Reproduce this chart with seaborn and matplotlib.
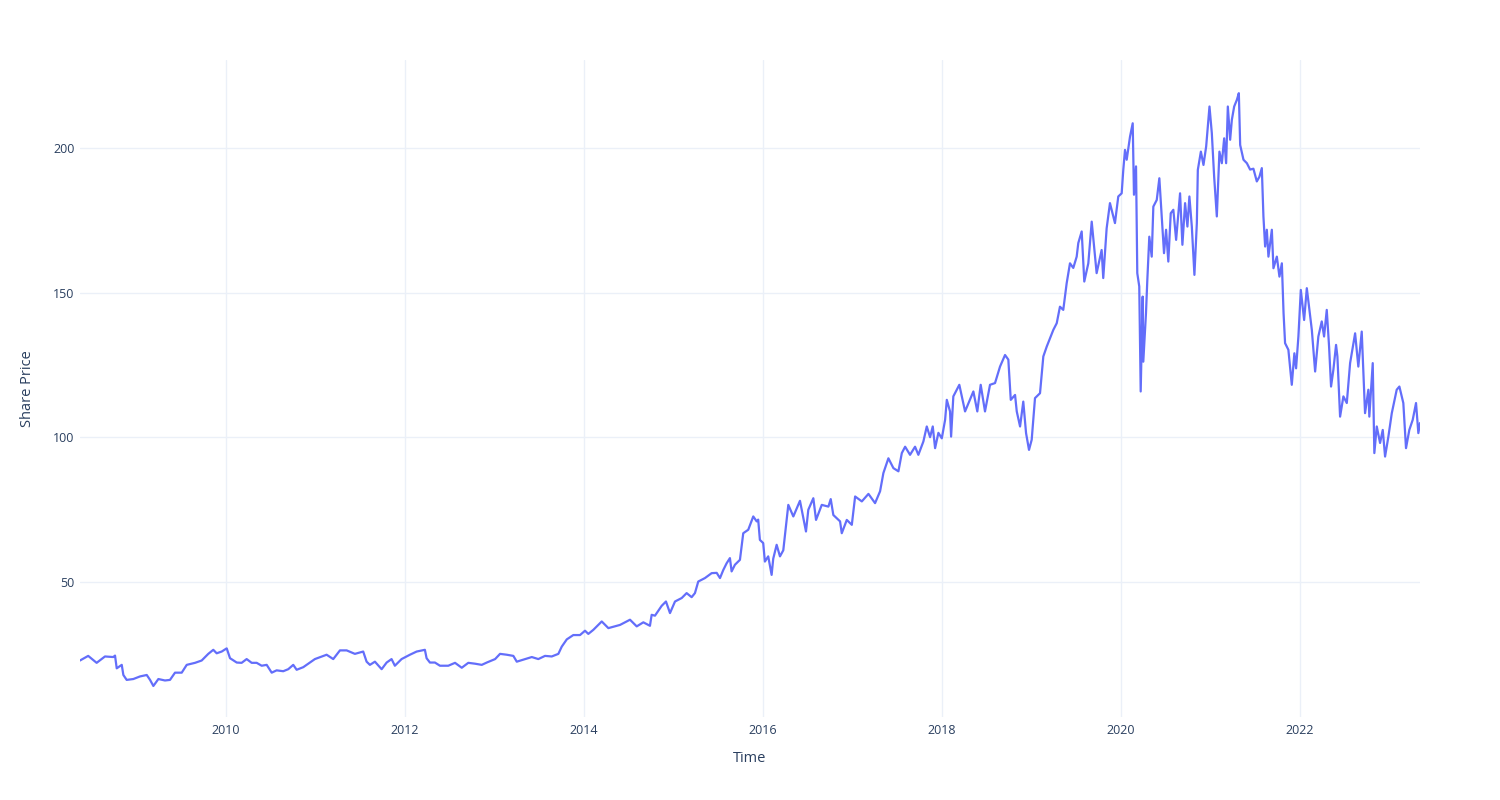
import numpy as np
import pandas as pd
import matplotlib
matplotlib.use("Agg")
import matplotlib.pyplot as plt
import matplotlib.dates as mdates
import seaborn as sns

# Time as decimal years
time_years = [
    2008.369, 2008.461, 2008.555, 2008.648, 2008.741, 2008.760, 2008.779, 2008.835, 2008.853, 2008.890,
    2008.964, 2009.039, 2009.114, 2009.151, 2009.188, 2009.244, 2009.318, 2009.374, 2009.430, 2009.505,
    2009.561, 2009.654, 2009.728, 2009.802, 2009.858, 2009.896, 2009.952, 2010.008, 2010.045, 2010.120,
    2010.175, 2010.231, 2010.287, 2010.343, 2010.399, 2010.455, 2010.511, 2010.566, 2010.640, 2010.696,
    2010.752, 2010.790, 2010.864, 2010.994, 2011.125, 2011.199, 2011.274, 2011.349, 2011.441, 2011.534,
    2011.572, 2011.609, 2011.665, 2011.740, 2011.796, 2011.851, 2011.888, 2011.963, 2012.056, 2012.131,
    2012.223, 2012.242, 2012.279, 2012.335, 2012.391, 2012.484, 2012.559, 2012.634, 2012.707, 2012.782,
    2012.857, 2012.913, 2013.006, 2013.061, 2013.136, 2013.210, 2013.248, 2013.341, 2013.416, 2013.489,
    2013.564, 2013.639, 2013.713, 2013.751, 2013.807, 2013.880, 2013.955, 2014.011, 2014.048, 2014.104,
    2014.198, 2014.272, 2014.402, 2014.514, 2014.589, 2014.663, 2014.737, 2014.756, 2014.793, 2014.868,
    2014.916, 2014.961, 2015.017, 2015.092, 2015.147, 2015.203, 2015.240, 2015.277, 2015.352, 2015.427,
    2015.483, 2015.520, 2015.557, 2015.594, 2015.631, 2015.650, 2015.687, 2015.743, 2015.762, 2015.780,
    2015.836, 2015.892, 2015.930, 2015.947, 2015.966, 2016.003, 2016.022, 2016.059, 2016.097, 2016.115,
    2016.153, 2016.190, 2016.227, 2016.265, 2016.283, 2016.339, 2016.413, 2016.480, 2016.506, 2016.562,
    2016.592, 2016.656, 2016.730, 2016.756, 2016.785, 2016.860, 2016.879, 2016.935, 2016.991, 2017.028,
    2017.103, 2017.177, 2017.251, 2017.307, 2017.344, 2017.400, 2017.456, 2017.512, 2017.550, 2017.587,
    2017.642, 2017.698, 2017.735, 2017.791, 2017.829, 2017.866, 2017.896, 2017.922, 2017.959, 2017.997,
    2018.034, 2018.053, 2018.089, 2018.101, 2018.126, 2018.193, 2018.257, 2018.350, 2018.394, 2018.432,
    2018.480, 2018.536, 2018.592, 2018.648, 2018.704, 2018.741, 2018.768, 2018.816, 2018.835, 2018.872,
    2018.908, 2018.939, 2018.972, 2019.002, 2019.039, 2019.095, 2019.132, 2019.170, 2019.244, 2019.282,
    2019.318, 2019.355, 2019.393, 2019.430, 2019.467, 2019.505, 2019.523, 2019.561, 2019.590, 2019.635,
    2019.673, 2019.728, 2019.784, 2019.802, 2019.840, 2019.877, 2019.933, 2019.970, 2020.008, 2020.026,
    2020.045, 2020.064, 2020.101, 2020.131, 2020.145, 2020.168, 2020.182, 2020.204, 2020.220, 2020.242,
    2020.249, 2020.279, 2020.294, 2020.316, 2020.343, 2020.361, 2020.399, 2020.428, 2020.455, 2020.480,
    2020.503, 2020.528, 2020.555, 2020.584, 2020.615, 2020.640, 2020.659, 2020.685, 2020.715, 2020.741,
    2020.763, 2020.790, 2020.819, 2020.846, 2020.857, 2020.891, 2020.920, 2020.950, 2020.987, 2021.013,
    2021.039, 2021.069, 2021.098, 2021.125, 2021.151, 2021.173, 2021.192, 2021.218, 2021.237, 2021.263,
    2021.293, 2021.315, 2021.330, 2021.367, 2021.405, 2021.441, 2021.478, 2021.516, 2021.545, 2021.572,
    2021.590, 2021.609, 2021.628, 2021.646, 2021.684, 2021.702, 2021.740, 2021.769, 2021.796, 2021.815,
    2021.832, 2021.869, 2021.907, 2021.936, 2021.955, 2021.981, 2022.008, 2022.045, 2022.075, 2022.104,
    2022.131, 2022.168, 2022.204, 2022.242, 2022.268, 2022.298, 2022.324, 2022.346, 2022.372, 2022.402,
    2022.417, 2022.447, 2022.484, 2022.522, 2022.559, 2022.615, 2022.651, 2022.689, 2022.726, 2022.763,
    2022.774, 2022.812, 2022.830, 2022.857, 2022.894, 2022.924, 2022.950, 2022.987, 2023.025, 2023.080,
    2023.110, 2023.154, 2023.184, 2023.221, 2023.259, 2023.296, 2023.322, 2023.341,
]

share_price = [
    22.8, 24.4, 22.0, 24.2, 24.0, 24.5, 20.1, 21.3, 17.8, 16.1,
    16.4, 17.3, 17.8, 16.1, 14.0, 16.4, 15.9, 16.1, 18.6, 18.6,
    21.3, 22.0, 22.8, 25.1, 26.5, 25.3, 25.9, 27.0, 23.6, 22.1,
    22.0, 23.3, 22.0, 22.0, 21.0, 21.3, 18.6, 19.4, 19.1, 19.8,
    21.3, 19.6, 20.5, 23.3, 24.8, 23.3, 26.3, 26.3, 25.1, 25.9,
    22.4, 21.3, 22.4, 19.8, 22.1, 23.3, 21.0, 23.3, 24.8, 25.9,
    26.5, 23.6, 22.1, 22.1, 21.0, 21.0, 22.0, 20.3, 22.0, 21.7,
    21.3, 22.1, 23.3, 25.1, 24.8, 24.4, 22.4, 23.3, 24.0, 23.3,
    24.4, 24.2, 25.1, 27.6, 30.1, 31.6, 31.6, 33.1, 32.0, 33.4,
    36.3, 34.0, 35.1, 36.9, 34.6, 36.0, 34.8, 38.6, 38.3, 41.7,
    43.2, 39.2, 43.2, 44.4, 46.1, 44.7, 46.1, 50.1, 51.3, 53.0,
    53.1, 51.3, 54.1, 56.4, 58.2, 53.6, 55.9, 57.6, 62.2, 66.8,
    68.0, 72.6, 70.9, 71.5, 64.5, 63.4, 57.0, 58.8, 52.4, 58.0,
    62.8, 58.8, 60.9, 71.5, 76.6, 72.6, 78.0, 67.4, 74.9, 78.9,
    71.4, 76.6, 76.0, 78.6, 73.1, 70.9, 66.8, 71.4, 69.7, 79.5,
    77.8, 80.4, 77.2, 81.3, 87.6, 92.7, 89.3, 88.2, 94.5, 96.7,
    93.9, 96.7, 93.9, 98.5, 103.7, 100.0, 103.7, 96.2, 101.5, 99.6,
    106.0, 112.9, 108.9, 100.2, 114.1, 118.1, 108.9, 115.8, 108.9, 118.1,
    108.9, 118.1, 118.7, 124.4, 128.4, 126.8, 112.9, 114.6, 108.9, 103.7,
    112.3, 101.4, 95.6, 99.1, 113.5, 115.2, 127.9, 131.3, 137.1, 139.4,
    145.1, 144.0, 153.2, 160.1, 158.5, 162.4, 167.1, 171.1, 153.8, 160.1,
    174.5, 156.7, 164.7, 155.0, 172.2, 180.9, 174.0, 183.2, 184.3, 192.4,
    199.3, 195.9, 203.9, 208.5, 183.8, 193.6, 156.7, 152.1, 115.8, 148.6,
    126.1, 142.9, 154.4, 169.3, 162.4, 179.7, 182.0, 189.5, 176.3, 163.6,
    171.7, 160.7, 177.4, 178.6, 168.2, 177.4, 184.3, 166.5, 180.9, 172.8,
    183.2, 172.8, 156.1, 174.0, 192.4, 198.7, 194.1, 200.5, 214.3, 205.1,
    190.1, 176.3, 198.7, 194.7, 203.3, 194.7, 214.3, 202.8, 209.7, 214.3,
    216.6, 218.9, 201.0, 195.9, 194.7, 192.5, 192.8, 188.4, 190.0, 193.0,
    176.3, 165.9, 171.7, 162.4, 171.7, 158.4, 162.4, 155.5, 160.1, 142.9,
    132.5, 130.2, 118.1, 129.0, 123.8, 134.8, 150.9, 140.5, 151.5, 144.0,
    137.1, 122.7, 134.8, 140.0, 134.8, 144.0, 131.3, 117.5, 123.3, 131.9,
    127.9, 107.1, 114.1, 111.8, 125.6, 135.9, 124.4, 136.5, 108.3, 116.4,
    107.1, 125.6, 94.5, 103.7, 98.0, 102.5, 93.3, 100.2, 108.3, 116.4,
    117.5, 111.8, 96.2, 102.5, 106.0, 111.8, 101.4, 104.9,
]

y_ticks = [50, 100, 150, 200]
x_title = "Time"
y_title = "Share Price"


def decimal_year_to_datetime(values):
    out = []
    for v in values:
        year = int(np.floor(v))
        start = pd.Timestamp(year=year, month=1, day=1)
        end = pd.Timestamp(year=year + 1, month=1, day=1)
        out.append(start + (end - start) * (v - year))
    return out


df = pd.DataFrame({"Time": decimal_year_to_datetime(time_years), "Share Price": share_price})

sns.set_theme(style="white")
plt.rcParams["font.family"] = ["Open Sans", "DejaVu Sans"]

fig, ax = plt.subplots(figsize=(15, 8), dpi=100)
fig.subplots_adjust(left=0.0533, right=0.9467, top=0.925, bottom=0.104)

sns.lineplot(data=df, x="Time", y="Share Price", ax=ax, color="#636EFA", linewidth=1.6, zorder=3)

ax.set_xlim(df["Time"].min(), df["Time"].max())
span = max(share_price) - min(share_price)
ax.set_ylim(min(share_price) - 0.052 * span, max(share_price) + 0.056 * span)

ax.xaxis.set_major_locator(mdates.YearLocator(2))
ax.xaxis.set_major_formatter(mdates.DateFormatter("%Y"))
ax.set_yticks(y_ticks)

grid_color = "#EBF0F8"
ax.grid(True, color=grid_color, linewidth=1.0)
ax.set_axisbelow(True)
for s in ax.spines.values():
    s.set_visible(False)

text_color = "#2a3f5f"
ax.tick_params(axis="both", length=0, labelsize=9, labelcolor=text_color)
ax.tick_params(axis="x", pad=5)
ax.tick_params(axis="y", pad=4)
ax.set_xlabel(x_title, fontsize=10.5, color=text_color, labelpad=10)
ax.set_ylabel(y_title, fontsize=10.5, color=text_color, labelpad=13)

fig.savefig("out.png", dpi=100, facecolor="white")
